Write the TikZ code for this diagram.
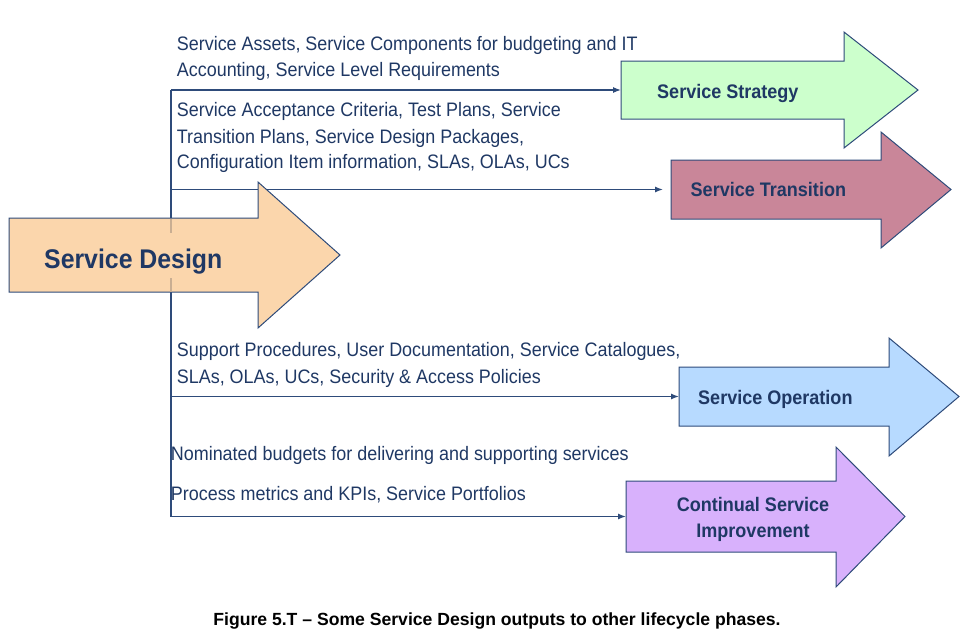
\documentclass[tikz,border=0pt]{standalone}
\usepackage{fontspec}
\setmainfont{Liberation Sans}[FakeStretch=0.92]
\usetikzlibrary{arrows.meta}
\definecolor{navy}{HTML}{1F3864}
\definecolor{edge}{HTML}{2E4B7A}
\definecolor{sdfill}{HTML}{FBD6AC}
\definecolor{ssfill}{HTML}{CCFFCC}
\definecolor{stfill}{HTML}{C98699}
\definecolor{sofill}{HTML}{B7DAFF}
\definecolor{csifill}{HTML}{D8B1FC}
\definecolor{faint}{HTML}{C9AE92}
\newcommand\phasearrow[9]{%
  \filldraw[arrowshape, fill=#9] (#2,#3) -- (#5,#3) -- (#5,#6) -- (#8,{(#3+#4)/2}) -- (#5,#7) -- (#5,#4) -- (#2,#4) -- cycle;
  \coordinate (#1) at (#2,{(#3+#4)/2});}
\begin{document}
\begin{tikzpicture}[x=1pt,y=-1pt,
  arrowshape/.style={draw=edge, line width=1pt, line join=miter},
  conn/.style={draw=edge, line width=1.2pt, -{Latex[length=8pt,width=6pt]}},
  bodytxt/.style={font=\fontsize{19.5}{26}\selectfont, text=navy, inner sep=0pt, anchor=base west},
  phasetxt/.style={font=\fontsize{19.6}{26}\selectfont\bfseries, text=navy, inner sep=0pt, anchor=base west},
  captxt/.style={font=\fontsize{17.6}{22}\selectfont\bfseries\addfontfeature{FakeStretch=1}, text=black, inner sep=0pt, anchor=base}]
\useasboundingbox (0,0) rectangle (970,640);
% trunk line
\coordinate (vtop) at (171,90);
\coordinate (vbot) at (171,516.5);
\draw[draw=edge, line width=1.2pt] (vtop) -- (vbot);
% phase arrows
\phasearrow{strat}{621}{61}{119}{844}{32}{148}{918}{ssfill}
\phasearrow{trans}{671}{160}{219}{881}{132}{248}{951}{stfill}
\phasearrow{oper}{679}{367}{426}{889}{338}{456}{959}{sofill}
\phasearrow{csi}{626}{481}{552}{836}{447}{587}{905}{csifill}
% connectors
\draw[conn] (vtop) -- (strat);
\draw[conn, shorten >=8pt] (vtop |- trans) -- (trans);
\draw[conn] (vtop |- oper) -- (oper);
\draw[conn] (vbot) -- (csi);
% service design arrow
\phasearrow{design}{9}{218}{292}{258}{182}{328}{340}{sdfill}
\draw[draw=faint, line width=1.1pt] (171,218.5) -- (171,233);
\draw[draw=faint, line width=1.1pt] (171,278) -- (171,291.5);
% labels in arrows
\node[phasetxt, font=\fontsize{27}{30}\selectfont\bfseries] (sdlabel) at (44,268) {Service Design};
\node[phasetxt] (sslabel) at (657,98) {Service Strategy};
\node[phasetxt] (stlabel) at (690.5,196.7) {Service Transition};
\node[phasetxt] (solabel) at (698,404) {Service Operation};
\node[phasetxt, anchor=base] (csilabel1) at (753,511.7) {Continual Service};
\node[phasetxt, anchor=base] (csilabel2) at (753,537) {Improvement};
% output texts
\node[bodytxt] (t1a) at (176.7,50) {Service Assets, Service Components for budgeting and IT};
\node[bodytxt] (t1b) at (176.7,76.7) {Accounting, Service Level Requirements};
\node[bodytxt] (t2a) at (176.7,116.7) {Service Acceptance Criteria, Test Plans, Service};
\node[bodytxt] (t2b) at (176.7,143.3) {Transition Plans, Service Design Packages,};
\node[bodytxt] (t2c) at (176.7,168.6) {Configuration Item information, SLAs, OLAs, UCs};
\node[bodytxt] (t3a) at (176.7,356.7) {Support Procedures, User Documentation, Service Catalogues,};
\node[bodytxt] (t3b) at (176.7,383.3) {SLAs, OLAs, UCs, Security \& Access Policies};
\node[bodytxt] (t4a) at (170.7,460) {Nominated budgets for delivering and supporting services};
\node[bodytxt] (t4b) at (170.7,500) {Process metrics and KPIs, Service Portfolios};
% caption
\node[captxt] (caption) at (497,625) {Figure 5.T – Some Service Design outputs to other lifecycle phases.};
\end{tikzpicture}
\end{document}
